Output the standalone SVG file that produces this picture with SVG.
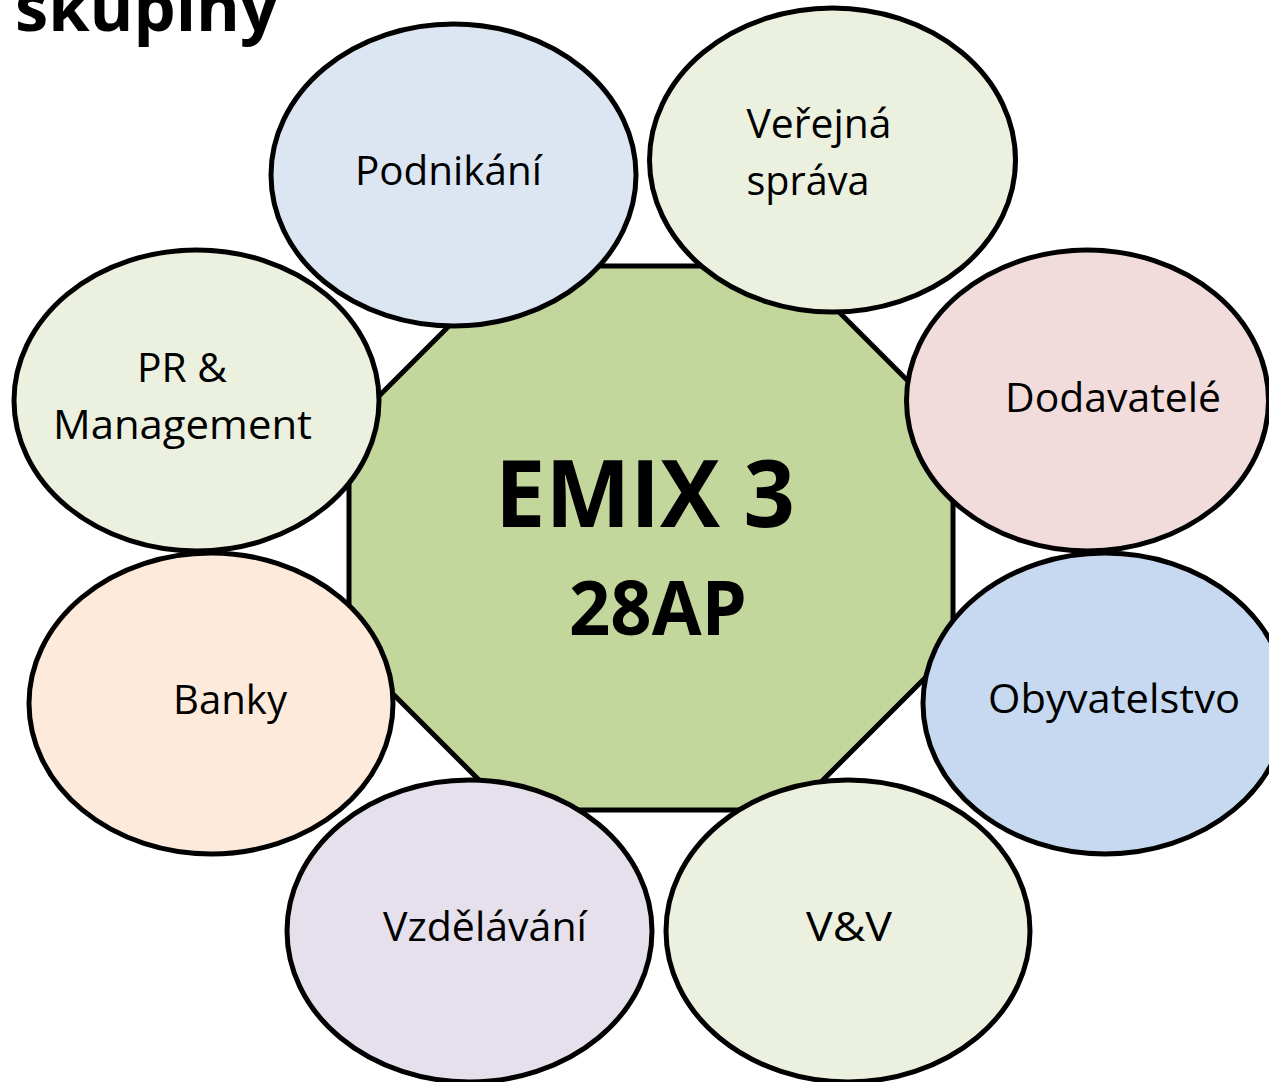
<svg xmlns="http://www.w3.org/2000/svg" width="1269" height="1082" viewBox="0 0 1269 1082">
<style>
.sh{stroke:#000;stroke-width:5}
.t{font-family:"Open Sans","Noto Sans",sans-serif;font-size:41px;fill:#000}
.b{font-family:"Open Sans","Noto Sans",sans-serif;font-weight:bold;fill:#000}
</style>
<rect x="0" y="0" width="1269" height="1082" fill="#fff"/>
<text class="b" x="15" y="31" font-size="67" textLength="263" lengthAdjust="spacingAndGlyphs">skupiny</text>
<g id="connectors"></g>
<g id="center">
<polygon class="sh" fill="#C3D69B" points="509,266 793,266 953,426 953,650 793,810 509,810 349,650 349,426"/>
<text class="b" x="495" y="527" font-size="93" textLength="300" lengthAdjust="spacingAndGlyphs">EMIX 3</text>
<text class="b" x="569" y="635" font-size="75" textLength="178" lengthAdjust="spacingAndGlyphs">28AP</text>
</g>
<g id="podnikani">
<ellipse class="sh" fill="#DCE6F2" cx="453.5" cy="175" rx="182.5" ry="151"/>
<text class="t" x="355" y="185" textLength="187" lengthAdjust="spacingAndGlyphs">Podnikání</text>
</g>
<g id="verejna-sprava">
<ellipse class="sh" fill="#EBF1DE" cx="832.5" cy="160" rx="183" ry="152"/>
<text class="t" x="746.5" y="138" textLength="145" lengthAdjust="spacingAndGlyphs">Veřejná</text>
<text class="t" x="746.5" y="195" textLength="123" lengthAdjust="spacingAndGlyphs">správa</text>
</g>
<g id="pr-management">
<ellipse class="sh" fill="#EBF1DE" cx="196.5" cy="400.5" rx="182.5" ry="150.5"/>
<text class="t" x="137" y="382" textLength="90" lengthAdjust="spacingAndGlyphs">PR &amp;</text>
<text class="t" x="53" y="439" textLength="259" lengthAdjust="spacingAndGlyphs">Management</text>
</g>
<g id="dodavatele">
<ellipse class="sh" fill="#F2DCDB" cx="1087.5" cy="400.5" rx="181" ry="150.5"/>
<text class="t" x="1005" y="412" textLength="216" lengthAdjust="spacingAndGlyphs">Dodavatelé</text>
</g>
<g id="banky">
<ellipse class="sh" fill="#FDEADA" cx="211" cy="703.5" rx="182" ry="150.5"/>
<text class="t" x="173" y="714" textLength="114" lengthAdjust="spacingAndGlyphs">Banky</text>
</g>
<g id="obyvatelstvo">
<ellipse class="sh" fill="#C6D9F1" cx="1105" cy="703.5" rx="182" ry="150.5"/>
<text class="t" x="988" y="713" textLength="252" lengthAdjust="spacingAndGlyphs">Obyvatelstvo</text>
</g>
<g id="vzdelavani">
<ellipse class="sh" fill="#E5E0EC" cx="469.5" cy="931" rx="182.5" ry="151"/>
<text class="t" x="383" y="941" textLength="204" lengthAdjust="spacingAndGlyphs">Vzdělávání</text>
</g>
<g id="vav">
<ellipse class="sh" fill="#EBF1DE" cx="848" cy="931" rx="182" ry="151"/>
<text class="t" x="806" y="941" textLength="86" lengthAdjust="spacingAndGlyphs">V&amp;V</text>
</g>
</svg>
